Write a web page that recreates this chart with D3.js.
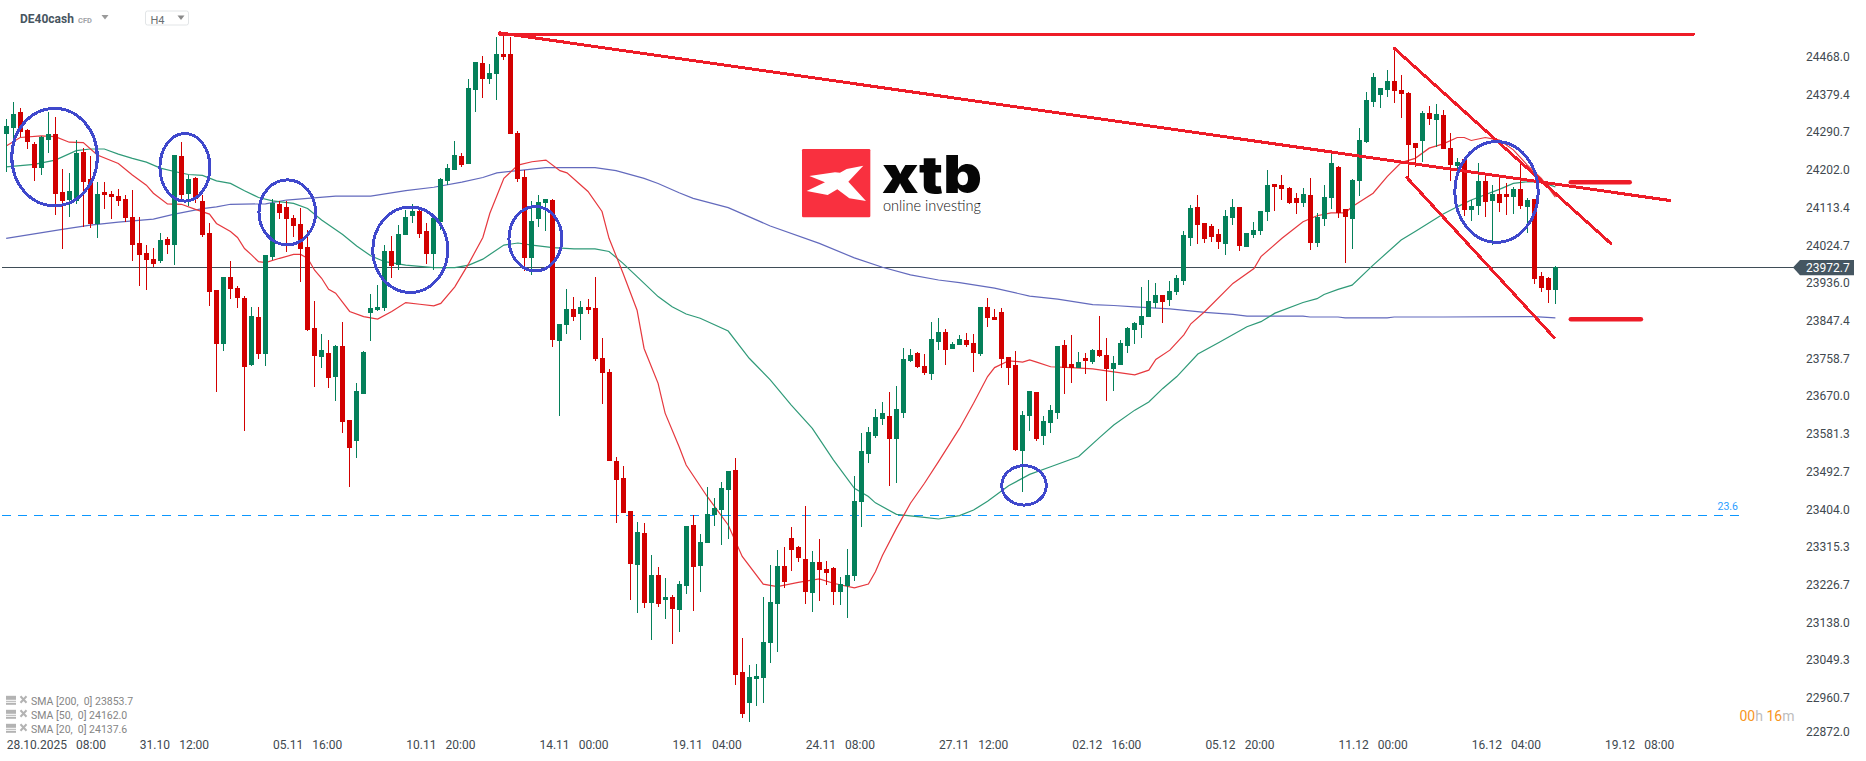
<!DOCTYPE html>
<html>
<head>
<meta charset="utf-8">
<title>DE40cash H4</title>
<script src="https://cdnjs.cloudflare.com/ajax/libs/d3/7.8.5/d3.min.js"></script>
<style>
    html, body { margin: 0; padding: 0; background: #fff; overflow: hidden; }
    svg { display: block; font-family: Roboto, sans-serif; }
    .axis path, .axis line { display: none; }
    .axis text { font-family: Roboto, sans-serif; font-size: 12px; fill: #41494f; }
    .xaxis text { white-space: pre; word-spacing: 1.6px; }
</style>
</head>
<body>
<svg id="chart" width="1866" height="761"></svg>
<script>
// candles, one value per 4h bar
var opens = [
    24286,24300,24338,24296,24263,24206,24272,24286,24150,24131,
    24129,24244,24180,24075,24150,24145,24140,24133,24091,24030,
    24006,23992,23988,24039,24025,24235,24145,24183,24129,24053,
    23919,23793,23950,23924,23901,23743,23856,23769,23997,24122,
    24115,24089,24075,24021,23830,23762,23771,23715,23788,23614,
    23564,23675,23865,23872,23877,24011,23978,24049,24093,24105,
    24058,24004,24079,24176,24202,24235,24216,24390,24453,24416,
    24427,24474,24474,24289,24185,23995,24086,24124,24131,23800,
    23837,23875,23863,23880,23877,23760,23727,23517,23477,23400,
    23273,23348,23184,23249,23191,23198,23167,23224,23367,23271,
    23325,23390,23402,23449,23496,23021,22948,23005,23007,23089,
    23181,23271,23336,23315,23287,23207,23280,23264,23266,23209,
    23224,23247,23421,23534,23576,23616,23623,23569,23630,23753,
    23772,23741,23722,23797,23821,23781,23790,23802,23795,23769,
    23880,23856,23868,23762,23743,23541,23623,23680,23576,23607,
    23630,23790,23745,23736,23760,23750,23778,23767,23734,23743,
    23788,23825,23837,23856,23889,23908,23896,23915,23941,24042,
    24115,24077,24070,24051,24028,24089,24115,24021,24049,24058,
    24103,24169,24166,24159,24136,24124,24143,24030,24086,24136,
    24209,24110,24086,24176,24267,24361,24378,24390,24411,24390,
    24383,24265,24270,24336,24319,24331,24253,24211,24228,24108,
    24117,24176,24129,24145,24145,24138,24157,24115,24133,23952,
    23948,23919
];
var highs = [
    24322,24361,24347,24298,24267,24282,24338,24326,24204,24195,
    24272,24253,24235,24173,24173,24152,24157,24143,24155,24091,
    24025,24018,24053,24044,24237,24267,24190,24186,24143,24077,
    23919,23950,23988,23929,23905,23880,23880,24002,24133,24129,
    24129,24096,24112,24061,23894,23816,23802,23790,23844,23614,
    23701,23776,23910,23931,24025,24046,24072,24108,24122,24110,
    24077,24096,24183,24216,24270,24242,24416,24456,24470,24451,
    24514,24524,24514,24293,24202,24129,24143,24133,24133,23840,
    23922,23903,23894,23898,23950,23807,23734,23527,23506,23400,
    23374,23372,23296,23268,23242,23202,23235,23365,23390,23346,
    23456,23431,23468,23494,23524,23101,23038,23040,23198,23273,
    23308,23315,23362,23318,23412,23306,23334,23282,23268,23245,
    23311,23482,23583,23597,23640,23656,23680,23694,23783,23781,
    23774,23769,23844,23854,23828,23797,23814,23818,23816,23880,
    23901,23875,23877,23762,23776,23635,23682,23680,23623,23649,
    23788,23802,23814,23774,23772,23781,23858,23807,23764,23802,
    23833,23844,23927,23943,23936,23908,23941,23955,24058,24119,
    24143,24077,24075,24063,24108,24133,24115,24053,24079,24105,
    24202,24169,24190,24162,24148,24159,24183,24100,24166,24241,
    24211,24110,24180,24300,24385,24430,24394,24437,24488,24425,
    24385,24265,24340,24352,24357,24343,24289,24230,24228,24131,
    24218,24190,24166,24183,24171,24162,24220,24136,24133,23962,
    23950,23976
];
var lows = [
    24198,24272,24280,24251,24176,24190,24242,24096,24016,24091,
    24122,24068,24065,24042,24110,24086,24117,24079,23988,23929,
    23919,23974,23983,24004,23978,24131,24117,24124,24044,23882,
    23680,23776,23898,23877,23588,23741,23757,23741,23990,24086,
    24009,24044,23938,23823,23691,23736,23689,23659,23583,23456,
    23524,23675,23800,23870,23870,23948,23966,24049,24077,24042,
    23981,23966,24061,24166,24202,24209,24216,24338,24371,24404,
    24366,24460,24286,24173,23964,23955,24068,24058,23785,23623,
    23816,23847,23802,23863,23753,23651,23517,23372,23395,23191,
    23160,23172,23097,23174,23146,23087,23115,23205,23165,23209,
    23325,23365,23320,23334,22991,22913,22904,22941,22948,23043,
    23068,23219,23259,23280,23181,23162,23188,23226,23179,23179,
    23148,23235,23362,23513,23572,23602,23459,23466,23619,23750,
    23736,23720,23708,23778,23743,23781,23790,23785,23727,23764,
    23833,23849,23736,23696,23541,23445,23588,23564,23555,23583,
    23616,23675,23701,23736,23722,23745,23762,23659,23682,23743,
    23771,23793,23807,23856,23877,23842,23882,23908,23931,24023,
    24028,24030,24032,24016,24002,24072,24011,24021,24042,24049,
    24082,24105,24131,24122,24098,24115,24014,24021,24070,24110,
    24089,23983,24016,24141,24265,24350,24347,24373,24359,24324,
    24185,24209,24220,24307,24256,24251,24176,24202,24093,24082,
    24096,24091,24025,24103,24096,24098,24110,24053,23934,23915,
    23889,23887
];
var closes = [
    24305,24333,24291,24267,24206,24279,24286,24145,24129,24152,
    24242,24173,24075,24145,24143,24138,24129,24089,24025,24002,
    23990,23981,24037,24025,24237,24143,24180,24133,24049,23915,
    23793,23950,23922,23901,23738,23858,23769,24002,24124,24100,
    24086,24070,24016,23825,23764,23778,23713,23788,23609,23548,
    23682,23774,23877,23880,24011,23976,24051,24091,24105,24051,
    24004,24089,24180,24206,24237,24213,24394,24456,24416,24430,
    24474,24467,24286,24180,23995,24082,24126,24133,23802,23840,
    23875,23856,23880,23872,23757,23724,23517,23473,23395,23275,
    23351,23184,23249,23181,23198,23170,23228,23365,23268,23327,
    23393,23407,23454,23494,23014,22923,23010,23012,23092,23186,
    23271,23233,23308,23289,23209,23280,23261,23254,23209,23228,
    23249,23423,23541,23586,23621,23630,23569,23640,23757,23767,
    23738,23724,23804,23821,23778,23793,23804,23790,23771,23880,
    23854,23849,23757,23736,23543,23626,23682,23569,23612,23637,
    23788,23736,23736,23750,23753,23778,23764,23734,23748,23795,
    23830,23842,23858,23894,23908,23891,23917,23948,24049,24112,
    24072,24039,24044,24032,24093,24115,24023,24053,24061,24105,
    24166,24162,24157,24124,24124,24145,24030,24091,24138,24218,
    24100,24091,24178,24272,24366,24420,24394,24411,24387,24380,
    24260,24253,24336,24322,24333,24251,24213,24220,24108,24117,
    24176,24126,24145,24124,24138,24157,24117,24131,23945,23924,
    23919,23973
];

// moving averages at these bar numbers
var sma20Bars = [0,2,5,7,9,11,13,16,18,20,21,23,25,27,29,30,32,33,34,35,36,37,39,41,42,43,44,45,46,47,49,51,53,55,57,59,61,62,64,66,68,69,71,73,75,77,79,80,83,85,86,88,90,91,93,94,96,97,100,103,105,108,110,113,116,118,121,123,124,125,127,129,131,133,136,138,140,141,143,145,146,147,149,152,155,158,161,163,164,166,168,169,171,175,178,179,182,185,187,189,191,192,195,197,199,201,203,205,207,208,209,211,213,215,217,219,221];
var sma20 = [24258,24278,24282,24280,24267,24266,24237,24217,24190,24166,24147,24122,24121,24109,24098,24076,24057,24043,24017,24002,23986,23984,23994,24003,24003,23994,23966,23947,23921,23912,23869,23857,23851,23869,23890,23886,23882,23888,23927,23982,24043,24100,24182,24213,24221,24225,24200,24195,24151,24104,24041,23959,23872,23782,23700,23630,23551,23508,23434,23367,23293,23228,23222,23232,23240,23230,23219,23228,23257,23295,23359,23418,23465,23516,23594,23653,23716,23737,23753,23750,23755,23750,23739,23737,23734,23727,23720,23731,23756,23778,23814,23840,23869,23935,23970,23998,24041,24080,24094,24101,24101,24115,24147,24186,24219,24229,24253,24263,24278,24278,24271,24278,24272,24249,24213,24182,24137.6];
var sma50Bars = [0,4,7,10,12,14,16,18,20,22,24,26,28,30,32,34,36,38,41,43,45,48,50,52,54,57,61,64,66,68,71,73,75,78,81,84,86,88,90,93,95,97,99,103,106,109,112,115,118,121,123,124,127,131,133,136,138,140,143,146,149,153,156,158,161,163,165,167,170,173,177,179,181,185,187,188,190,192,195,199,201,205,207,209,213,215,217,219,221];
var sma50 = [24209,24215,24225,24247,24251,24251,24239,24229,24220,24206,24198,24191,24189,24176,24170,24153,24137,24129,24123,24111,24084,24050,24023,24000,23986,23978,23972,23972,23978,23992,24025,24030,24025,24019,24016,24016,24010,23982,23951,23904,23880,23863,23853,23823,23759,23708,23649,23594,23520,23453,23434,23419,23392,23385,23381,23389,23402,23423,23459,23486,23504,23528,23573,23602,23637,23656,23688,23716,23769,23796,23833,23845,23865,23890,23899,23909,23921,23931,23978,24037,24057,24098,24115,24131,24156,24170,24174,24173,24162];
var sma200Bars = [0,8,12,16,21,24,28,30,32,37,40,43,47,52,57,61,65,68,70,74,77,84,87,91,93,96,98,103,109,116,121,125,129,133,136,141,146,150,155,158,161,166,171,175,177,185,186,190,191,197,198,205,218,221];
var sma200 = [24041,24062,24072,24079,24086,24098,24111,24115,24121,24122,24131,24135,24140,24140,24153,24161,24173,24184,24195,24202,24207,24207,24200,24182,24170,24148,24135,24113,24070,24029,23995,23973,23955,23943,23937,23924,23905,23898,23885,23883,23880,23875,23867,23862,23858,23858,23856,23856,23854,23854,23856,23856,23857,23853.7];

// axis labels
var priceTicks = [24468.0,24379.4,24290.7,24202.0,24113.4,24024.7,23936.0,23847.4,23758.7,23670.0,23581.3,23492.7,23404.0,23315.3,23226.7,23138.0,23049.3,22960.7,22872.0];
var timeBars = [0,19,38,57,76,95,114,133,152,171,190,209,228];
var timeLabels = ["28.10.2025  08:00","31.10  12:00","05.11  16:00","10.11  20:00","14.11  00:00","19.11  04:00","24.11  08:00","27.11  12:00","02.12  16:00","05.12  20:00","11.12  00:00","16.12  04:00","19.12  08:00"];
var legendLabels = ["SMA [200,  0] 23853.7","SMA [50,  0] 24162.0","SMA [20,  0] 24137.6"];
var lastPrice = 23972.7;
var fibPrice = 23390;

// hand drawn marks, in bars and prices: [bar, price, bar, price]
var redLines = [[70.4,24521,240.7,24521],[70.4,24524,237.3,24130],[198,24488,228.9,24029],[199.8,24184,220.8,23808]];
var redBars = [[223.2,24172.7,231.6,24172.7],[223.2,23850.6,233.2,23850.6]];
// [bar, price, half width in bars, half height in price]
var circles = [[6.9,24232,6.1,114.5],[25.5,24208,3.57,79.5],[40.1,24102,4.04,76.4],[57.65,24014,5.35,100.6],[75.5,24040,3.78,75.7],[145.2,23460,3.18,46.3],[212.6,24150,5.95,118.3]];

var svg = d3.select("#chart");

var x = d3.scaleLinear().domain([0, 221]).range([6.17, 1555.38]);
var y = d3.scaleLinear().domain([24468, 22872]).range([56.7, 735.5]);

var upColor = "#05805a";
var downColor = "#d20000";

//price line and fibo level sit behind everything
svg.append("line")
    .attr("x1", 2).attr("x2", 1800)
    .attr("y1", Math.round(y(lastPrice)) + 0.5).attr("y2", Math.round(y(lastPrice)) + 0.5)
    .attr("stroke", "#3f4d57").attr("stroke-width", 1);

svg.append("line")
    .attr("x1", 2).attr("x2", 1739)
    .attr("y1", Math.round(y(fibPrice)) + 0.5).attr("y2", Math.round(y(fibPrice)) + 0.5)
    .attr("stroke", "#0b97ff").attr("stroke-width", 1)
    .attr("stroke-dasharray", "9 7");

svg.append("text")
    .attr("x", 1738).attr("y", y(fibPrice) - 5)
    .attr("text-anchor", "end")
    .attr("font-size", 10.5)
    .attr("fill", "#2b9dff")
    .text("23.6");

//moving averages
function drawAverage(bars, values, color) {
    var line = d3.line()
        .x(function (d, i) { return x(bars[i]); })
        .y(function (d) { return y(d); });
    svg.append("path")
        .attr("d", line(values))
        .attr("fill", "none")
        .attr("stroke", color)
        .attr("stroke-width", 1.2);
}
drawAverage(sma200Bars, sma200, "#636abd");
drawAverage(sma50Bars, sma50, "#2f9a78");
drawAverage(sma20Bars, sma20, "#e6383e");

//candles
var candles = svg.append("g").attr("shape-rendering", "crispEdges");
candles.selectAll("rect.wick")
    .data(opens)
    .enter().append("rect")
    .attr("class", "wick")
    .attr("x", function (d, i) { return Math.floor(x(i)); })
    .attr("width", 1)
    .attr("y", function (d, i) { return Math.round(y(highs[i])); })
    .attr("height", function (d, i) { return Math.round(y(lows[i])) - Math.round(y(highs[i])); })
    .attr("fill", function (d, i) { return closes[i] >= d ? upColor : downColor; });

candles.selectAll("rect.body")
    .data(opens)
    .enter().append("rect")
    .attr("class", "body")
    .attr("x", function (d, i) { return Math.floor(x(i)) - 2; })
    .attr("width", 5)
    .attr("y", function (d, i) { return Math.round(y(Math.max(d, closes[i]))); })
    .attr("height", function (d, i) {
        return Math.max(1, Math.round(y(Math.min(d, closes[i]))) - Math.round(y(Math.max(d, closes[i]))));
    })
    .attr("fill", function (d, i) { return closes[i] >= d ? upColor : downColor; });

//logo
var logo = svg.append("g").attr("transform", "translate(780,130) scale(0.3333)");
logo.append("rect")
    .attr("x", 66).attr("y", 57).attr("width", 205).attr("height", 205).attr("rx", 4)
    .attr("fill", "#f9303f");
logo.append("path")
    .attr("d", "M88,138 L165,127 L180,128 L200,117 L250,107 L205,155 L258,213 L208,205 L172,178 L143,195 L80,183 L135,157 Z")
    .attr("fill", "#fff");
svg.append("text")
    .attr("x", 882).attr("y", 193.3)
    .attr("font-family", "Inter, sans-serif").attr("font-weight", 900).attr("font-size", 52)
    .attr("textLength", 100).attr("lengthAdjust", "spacingAndGlyphs")
    .attr("fill", "#060606")
    .text("xtb");
svg.append("text")
    .attr("x", 883).attr("y", 211)
    .attr("font-family", "Lato, sans-serif").attr("font-weight", 300).attr("font-size", 15.5)
    .attr("textLength", 98).attr("lengthAdjust", "spacingAndGlyphs")
    .attr("fill", "#111")
    .text("online investing");

//hand drawn trend lines and circles go over the candles, painted without smoothing
svg.selectAll("line.trend")
    .data(redLines)
    .enter().append("line")
    .attr("class", "trend")
    .attr("x1", function (d) { return x(d[0]); })
    .attr("y1", function (d) { return y(d[1]); })
    .attr("x2", function (d) { return x(d[2]); })
    .attr("y2", function (d) { return y(d[3]); })
    .attr("stroke", "#ee1c28")
    .attr("stroke-width", 3)
    .attr("stroke-linecap", "round")
    .attr("shape-rendering", "crispEdges");

svg.selectAll("line.level")
    .data(redBars)
    .enter().append("line")
    .attr("class", "level")
    .attr("x1", function (d) { return x(d[0]); })
    .attr("y1", function (d) { return y(d[1]); })
    .attr("x2", function (d) { return x(d[2]); })
    .attr("y2", function (d) { return y(d[3]); })
    .attr("stroke", "#ee1c28")
    .attr("stroke-width", 4.5)
    .attr("stroke-linecap", "round");

svg.selectAll("ellipse")
    .data(circles)
    .enter().append("ellipse")
    .attr("cx", function (d) { return x(d[0]); })
    .attr("cy", function (d) { return y(d[1]); })
    .attr("rx", function (d) { return x(d[2]) - x(0); })
    .attr("ry", function (d) { return y(d[1] - d[3]) - y(d[1]); })
    .attr("fill", "none")
    .attr("stroke", "#3f48cc")
    .attr("stroke-width", 3)
    .attr("shape-rendering", "crispEdges");

//axes
var yAxis = svg.append("g")
    .attr("class", "axis")
    .attr("transform", "translate(1806,0)")
    .call(d3.axisRight(y).tickValues(priceTicks).tickFormat(d3.format(".1f")).tickSize(0).tickPadding(0));
// the platform pushes the last label up so it stays above the time axis
yAxis.selectAll(".tick")
    .filter(function (d) { return d === 22872; })
    .attr("transform", "translate(0,731.7)");

var xAxis = svg.append("g")
    .attr("class", "axis xaxis")
    .attr("transform", "translate(0,744.5)")
    .call(d3.axisBottom(x).tickValues(timeBars).tickFormat(function (d, i) { return timeLabels[i]; }).tickSize(0).tickPadding(0));
xAxis.selectAll("text")
    .attr("text-anchor", "start")
    .attr("y", 0)
    .attr("dy", "0.35em");

//price tag on the axis
svg.append("path")
    .attr("d", "M1793,267.6 L1800,260 L1854,260 L1854,275.3 L1800,275.3 Z")
    .attr("fill", "#455661");
svg.append("text")
    .attr("x", 1806).attr("y", 272)
    .attr("font-size", 12)
    .attr("fill", "#fff")
    .text(d3.format(".1f")(lastPrice));

//symbol header
svg.append("text")
    .attr("x", 20).attr("y", 23)
    .attr("font-size", 12).attr("font-weight", 700)
    .attr("fill", "#47555f")
    .text("DE40cash");
svg.append("text")
    .attr("x", 78).attr("y", 22.5)
    .attr("font-size", 7.5).attr("font-weight", 700)
    .attr("fill", "#a0a4a8")
    .text("CFD");
svg.append("path").attr("d", "M101.5,15 L108.5,15 L105,19.5 Z").attr("fill", "#9a9a9a");
svg.append("rect")
    .attr("x", 145.5).attr("y", 11).attr("width", 43).attr("height", 14).attr("rx", 2)
    .attr("fill", "#fff").attr("stroke", "#e2e5e7");
svg.append("text")
    .attr("x", 150.5).attr("y", 23.5)
    .attr("font-size", 11)
    .attr("fill", "#6a6f73")
    .text("H4");
svg.append("path").attr("d", "M177.5,15.5 L184.5,15.5 L181,20 Z").attr("fill", "#8a8a8a");

//indicator legend
var legend = svg.selectAll("g.legend")
    .data(legendLabels)
    .enter().append("g")
    .attr("class", "legend")
    .attr("transform", function (d, i) { return "translate(0," + (701.3 + i * 14) + ")"; });
legend.append("rect").attr("x", 6).attr("y", -5.5).attr("width", 10).attr("height", 4).attr("fill", "#b3b3b3");
legend.append("rect").attr("x", 6).attr("y", -0.5).attr("width", 10).attr("height", 1).attr("fill", "#b3b3b3");
legend.append("rect").attr("x", 6).attr("y", 1.5).attr("width", 10).attr("height", 2).attr("fill", "#b3b3b3");
legend.append("path")
    .attr("d", "M20.5,-5 L26.5,1.5 M26.5,-5 L20.5,1.5")
    .attr("stroke", "#b3b3b3").attr("stroke-width", 2);
legend.append("text")
    .attr("x", 31).attr("y", 3.8)
    .attr("font-size", 10.5)
    .attr("fill", "#858585")
    .style("white-space", "pre")
    .text(function (d) { return d; });

//countdown
var timer = svg.append("text")
    .attr("x", 1739.5).attr("y", 721)
    .attr("font-size", 14)
    .style("white-space", "pre");
timer.append("tspan").attr("fill", "#f7961e").text("00");
timer.append("tspan").attr("fill", "#bdbdbd").text("h ");
timer.append("tspan").attr("fill", "#f7961e").text("16");
timer.append("tspan").attr("fill", "#bdbdbd").text("m");
</script>
</body>
</html>
